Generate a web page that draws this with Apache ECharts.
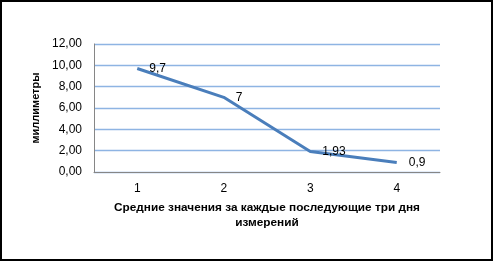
<!DOCTYPE html>
<html>
<head>
<meta charset="utf-8">
<script src="https://cdn.jsdelivr.net/npm/echarts@6/dist/echarts.min.js"></script>
<style>
  html, body { margin: 0; padding: 0; background: #fff; }
  #chart { width: 493px; height: 262px; }
</style>
</head>
<body>
<div id="chart"></div>
<script>
  // данные графика
  var categories = ['1', '2', '3', '4'];
  var values = [9.7, 7, 1.93, 0.9];
  var yMin = 0, yMax = 12, yStep = 2;

  var fontFamily = '"Liberation Sans", Arial, sans-serif';
  var comma = function (v) { return String(v).replace('.', ','); };

  var myChart = echarts.init(document.getElementById('chart'));
  myChart.setOption({
    animation: false,
    grid: { left: 94, right: 53, top: 44, bottom: 90 },
    graphic: [{
      type: 'rect',
      shape: { x: 1, y: 1, width: 491, height: 259 },
      style: { fill: 'none', stroke: '#000', lineWidth: 2 },
      silent: true
    }],
    xAxis: {
      type: 'category',
      data: categories,
      boundaryGap: true,
      name: 'Средние значения за каждые последующие три дня\nизмерений',
      nameLocation: 'middle',
      nameGap: 28,
      nameTextStyle: {
        color: '#000', fontSize: 11.8, fontWeight: 'bold',
        fontFamily: fontFamily, lineHeight: 15
      },
      axisLine: { lineStyle: { color: '#868686', width: 1 } },
      axisTick: { show: false },
      axisLabel: { color: '#000', fontSize: 12, fontFamily: fontFamily, margin: 11 }
    },
    yAxis: {
      type: 'value',
      min: yMin,
      max: yMax,
      interval: yStep,
      name: 'миллиметры',
      nameLocation: 'middle',
      nameRotate: 90,
      nameGap: 51,
      nameTextStyle: { color: '#000', fontSize: 11, fontWeight: 'bold', fontFamily: fontFamily },
      axisLine: { show: true, lineStyle: { color: '#868686', width: 1 } },
      axisTick: { show: false },
      axisLabel: {
        color: '#000', fontSize: 12, fontFamily: fontFamily, margin: 12,
        formatter: function (v) { return v.toFixed(2).replace('.', ','); }
      },
      splitLine: { show: true, lineStyle: { color: '#8eb4e3', width: 1.3 } }
    },
    series: [{
      type: 'line',
      data: values,
      symbol: 'circle',
      symbolSize: 0,
      showSymbol: true,
      lineStyle: { color: '#4a7ebb', width: 3 },
      itemStyle: { color: '#4a7ebb' },
      label: {
        show: true,
        position: 'right',
        distance: 12,
        color: '#000',
        fontSize: 12,
        fontFamily: fontFamily,
        formatter: function (p) { return comma(p.value); }
      }
    }]
  });
</script>
</body>
</html>
